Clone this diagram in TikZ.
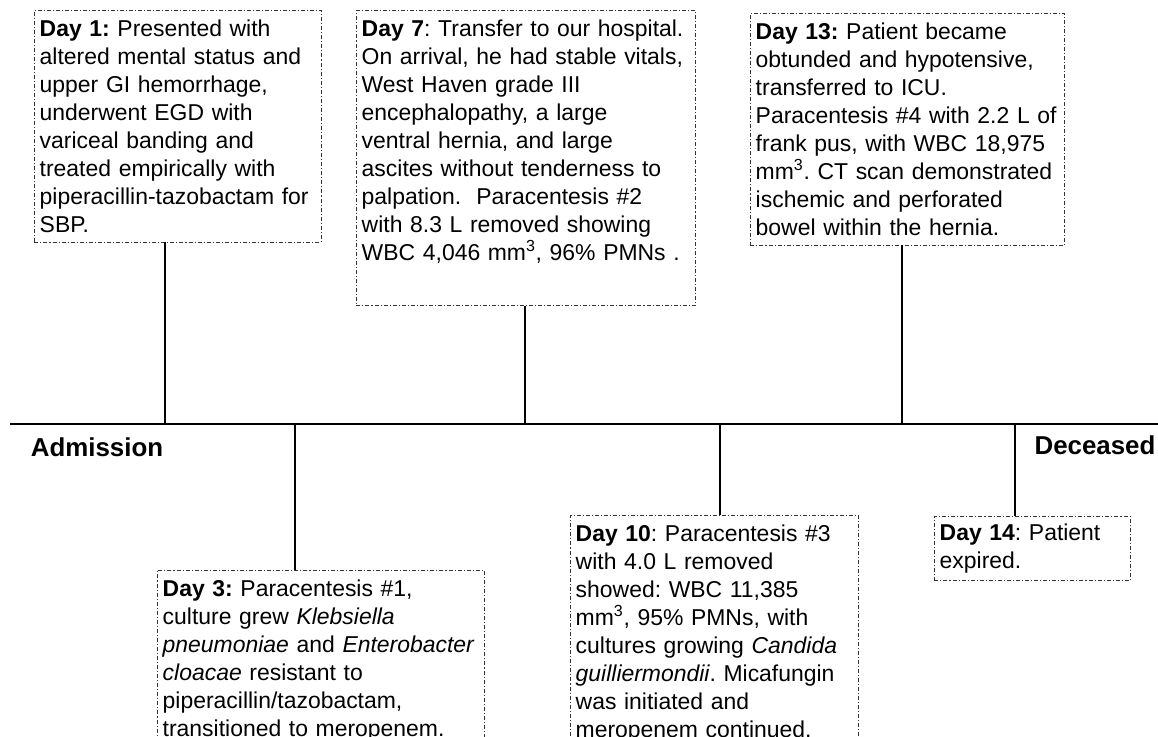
\documentclass[tikz,border=0pt]{standalone}
\usepackage{fontspec}
\setmainfont{Liberation Sans}
\usetikzlibrary{positioning}

\begin{document}
\frenchspacing
\begin{tikzpicture}[x=0.75pt,y=-0.75pt,
  event/.style={draw=black!80,line width=0.6pt,
    dash pattern=on 3pt off 1.5pt on 0.8pt off 1.5pt,
    anchor=north west,align=left,inner xsep=4pt,inner ysep=7pt,
    font=\fontsize{17.2}{21}\selectfont},
  stem/.style={line width=1.8pt},
  mark label/.style={font=\fontsize{19.4}{22}\selectfont\bfseries}]

  \useasboundingbox (0,0) rectangle (1158,737);
  \clip (0,0) rectangle (1158,737);

  % the time axis
  \coordinate (start) at (10,424);
  \coordinate (end) at (1158,424);
  \draw[stem] (start) -- (end);

  \node[mark label] (adm) at (97,447) {Admission};
  \node[mark label] (dec) at (1095,445) {Deceased};

  % events above the axis
  \node[event,text width=207.25pt] (d1) at (34,10)
    {\textbf{Day 1:} Presented with\\
     altered mental status and\\
     upper GI hemorrhage,\\
     underwent EGD with\\
     variceal banding and\\
     treated empirically with\\
     piperacillin-tazobactam for\\
     SBP.};
  \coordinate (t1) at (165,424);

  \node[event,text width=246.25pt] (d7) at (356,10)
    {\textbf{Day 7}: Transfer to our hospital.\\
     On arrival, he had stable vitals,\\
     West Haven grade III\\
     encephalopathy, a large\\
     ventral hernia, and large\\
     ascites without tenderness to\\
     palpation.\ \ Paracentesis \#2\\
     with 8.3 L removed showing\\
     WBC 4,046 mm\textsuperscript{3}, 96\% PMNs .\\[6pt]
     \mbox{}};
  \coordinate (t7) at (525,424);

  \node[event,text width=227.5pt] (d13) at (750,13)
    {\textbf{Day 13:} Patient became\\
     obtunded and hypotensive,\\
     transferred to ICU.\\
     Paracentesis \#4 with 2.2 L of\\
     frank pus, with WBC 18,975\\
     mm\textsuperscript{3}. CT scan demonstrated\\
     ischemic and perforated\\
     bowel within the hernia.};
  \coordinate (t13) at (902,424);

  % events below the axis
  \node[event,text width=237.25pt] (d3) at (157,570)
    {\textbf{Day 3:} Paracentesis \#1,\\
     culture grew \textit{Klebsiella}\\
     \textit{pneumoniae} and \textit{Enterobacter}\\
     \textit{cloacae} resistant to\\
     piperacillin/tazobactam,\\
     transitioned to meropenem.\\
     \mbox{}};
  \coordinate (t3) at (295,424);

  \node[event,text width=208pt] (d10) at (570,515)
    {\textbf{Day 10}: Paracentesis \#3\\
     with 4.0 L removed\\
     showed: WBC 11,385\\
     mm\textsuperscript{3}, 95\% PMNs, with\\
     cultures growing \textit{Candida}\\
     \textit{guilliermondii}. Micafungin\\
     was initiated and\\
     meropenem continued.\\
     \mbox{}};
  \coordinate (t10) at (720,424);

  \node[event,text width=139pt,inner ysep=5.5pt] (d14) at (934,516)
    {\textbf{Day 14}: Patient\\
     expired.};
  \coordinate (t14) at (1015,424);

  \path[stem]
  (t1 |- d1.south)   edge (t1)
  (t7 |- d7.south)   edge (t7)
  (t13 |- d13.south) edge (t13)
  (t3)  edge (t3 |- d3.north)
  (t10) edge (t10 |- d10.north)
  (t14) edge (t14 |- d14.north);
\end{tikzpicture}
\end{document}
